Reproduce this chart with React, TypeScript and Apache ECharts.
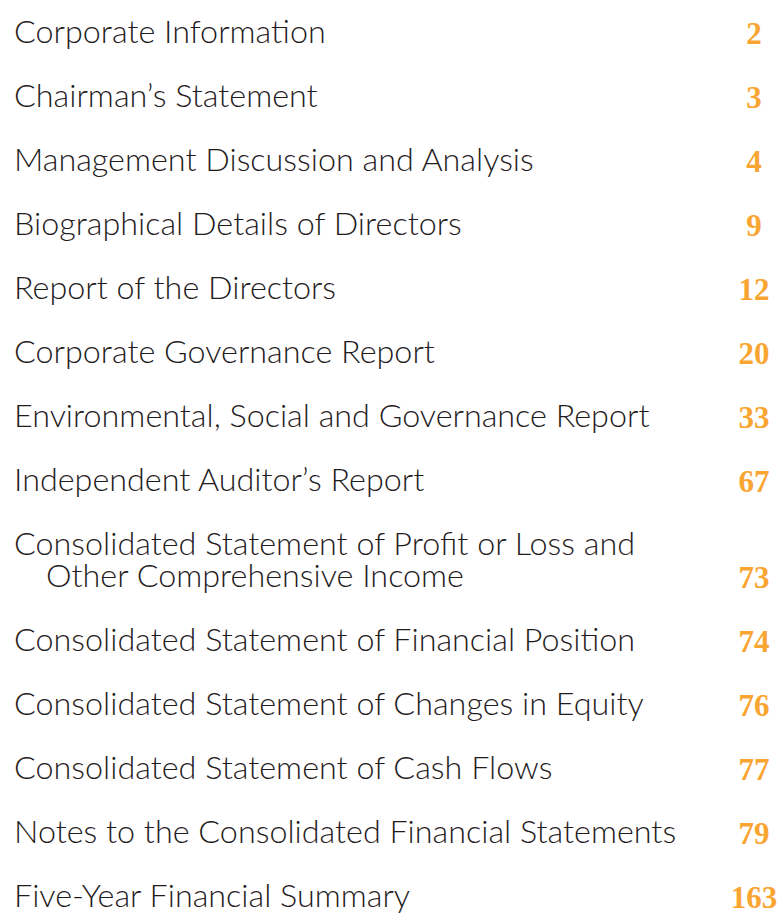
import React, { useEffect, useRef } from "react";
import * as echarts from "echarts";

const titles: string[][] = [
  ["Corporate Information"],
  ["Chairman\u2019s Statement"],
  ["Management Discussion and Analysis"],
  ["Biographical Details of Directors"],
  ["Report of the Directors"],
  ["Corporate Governance Report"],
  ["Environmental, Social and Governance Report"],
  ["Independent Auditor\u2019s Report"],
  ["Consolidated Statement of Profit or Loss and", "Other Comprehensive Income"],
  ["Consolidated Statement of Financial Position"],
  ["Consolidated Statement of Changes in Equity"],
  ["Consolidated Statement of Cash Flows"],
  ["Notes to the Consolidated Financial Statements"],
  ["Five-Year Financial Summary"],
];
const pages: string[] = ["2", "3", "4", "9", "12", "20", "33", "67", "73", "74", "76", "77", "79", "163"];

const TEXT_FONT = "Lato";
const NUM_FONT = "Liberation Serif";

export default function App() {
  const ref = useRef<HTMLDivElement>(null);
  useEffect(() => {
    document.body.style.margin = "0";
    const chart = echarts.init(ref.current!, undefined, { renderer: "svg" });
    const elements: any[] = [];
    let y = 31;
    titles.forEach((lines, i) => {
      lines.forEach((line, j) => {
        const ly = y + j * 32;
        elements.push({
          type: "text",
          x: j === 0 ? 14 : 46,
          y: ly,
          scaleX: 1.01,
          style: {
            text: line,
            fill: "#1f1c1d",
            font: `300 32px "${TEXT_FONT}"`,
            lineHeight: 30,
            textVerticalAlign: "middle",
            textAlign: "left",
          },
        });
      });
      const lastY = y + (lines.length - 1) * 32;
      elements.push({
        type: "text",
        x: 754,
        y: lastY + 2,
        style: {
          text: pages[i],
          fill: "#f8a532",
          font: `700 31px "${NUM_FONT}"`,
          lineHeight: 24,
          textVerticalAlign: "middle",
          textAlign: "center",
        },
      });
      y = lastY + 64;
    });
    chart.setOption({
      animation: false,
      backgroundColor: "#ffffff",
      graphic: { elements },
    });
    return () => chart.dispose();
  }, []);
  return <div ref={ref} style={{ width: 782, height: 913 }} />;
}
